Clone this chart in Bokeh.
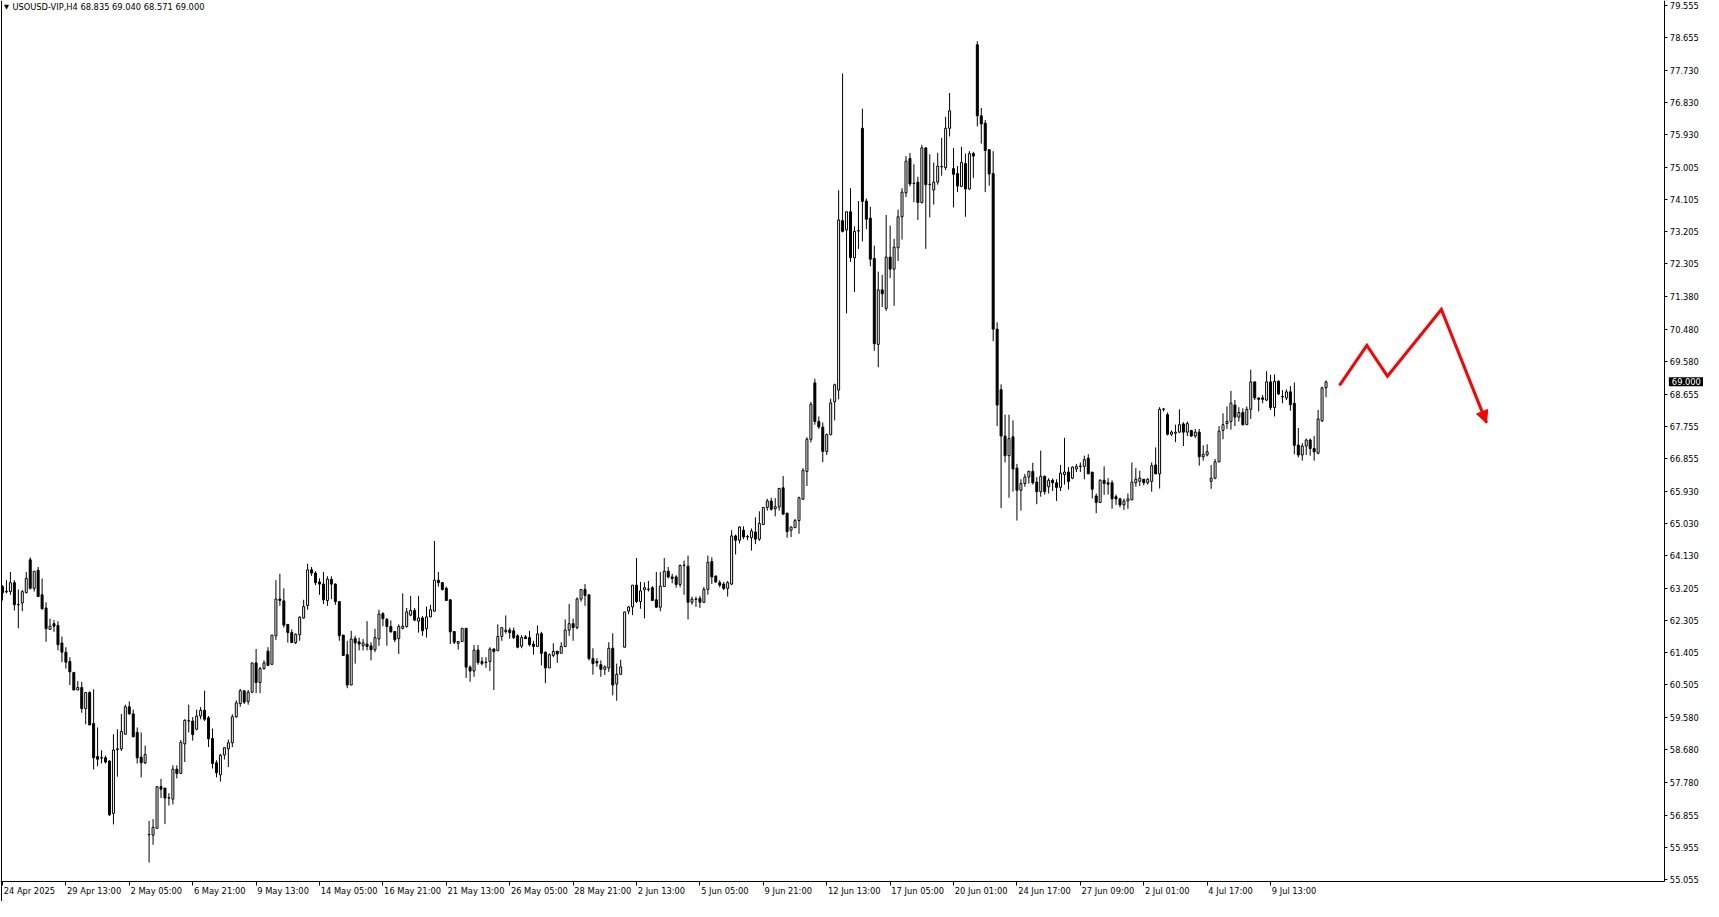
from bokeh.plotting import figure
from bokeh.models import (FixedTicker, PrintfTickFormatter, Label, Span, Arrow,
                          NormalHead, Range1d, ColumnDataSource)
from bokeh.embed import file_html
from bokeh.resources import INLINE

symbol = "USOUSD-VIP,H4"

opens = [
    63.26, 63.11, 63.12, 63.37, 62.75, 62.80, 63.09, 64.01, 63.21, 63.72,
    63.03, 62.66, 62.06, 62.22, 62.17, 61.68, 61.42, 61.16, 60.85, 60.36,
    60.43, 59.84, 60.29, 59.42, 58.50, 58.46, 58.46, 58.37, 56.90, 58.69,
    58.71, 59.12, 59.89, 59.69, 59.17, 58.48, 58.32, 56.30, 56.29, 56.48,
    57.65, 57.61, 57.33, 57.30, 58.14, 58.02, 58.85, 59.49, 59.49, 59.26,
    59.63, 59.79, 59.58, 59.00, 58.32, 57.98, 58.54, 58.71, 58.88, 59.61,
    59.98, 60.34, 60.04, 60.30, 61.12, 60.57, 60.96, 61.45, 61.08, 61.88,
    62.91, 62.86, 62.20, 61.97, 61.69, 61.91, 62.38, 62.73, 63.73, 63.64,
    63.39, 63.33, 62.87, 63.46, 63.33, 62.84, 61.90, 61.35, 60.50, 61.80,
    61.71, 61.60, 61.65, 61.60, 61.49, 61.79, 62.50, 62.34, 62.14, 62.00,
    61.80, 62.09, 62.14, 62.46, 62.59, 62.29, 62.38, 62.08, 62.41, 62.57,
    63.44, 63.37, 63.21, 62.89, 62.00, 61.67, 61.72, 62.09, 61.00, 60.89,
    61.48, 61.16, 61.13, 61.16, 61.51, 61.46, 61.86, 62.00, 62.04, 62.02,
    61.88, 61.59, 61.85, 61.83, 61.65, 61.58, 61.94, 61.42, 60.98, 61.33,
    61.45, 61.39, 61.58, 62.04, 62.22, 62.11, 62.91, 63.18, 63.03, 61.24,
    61.16, 61.07, 60.94, 60.98, 61.53, 60.53, 60.80, 61.56, 62.57, 62.69,
    63.30, 62.84, 63.17, 63.18, 63.23, 62.89, 62.68, 63.26, 63.69, 63.53,
    63.53, 63.32, 63.85, 63.83, 62.82, 62.90, 62.93, 62.82, 63.18, 63.96,
    63.55, 63.37, 63.33, 63.21, 63.33, 64.68, 64.56, 64.84, 64.66, 64.63,
    64.79, 64.59, 65.00, 65.48, 65.66, 65.44, 65.49, 66.03, 65.32, 64.84,
    64.91, 65.11, 65.71, 66.49, 67.39, 68.97, 67.89, 67.73, 67.05, 67.52,
    68.44, 68.77, 73.52, 73.26, 73.77, 72.48, 73.23, 76.11, 74.07, 73.59,
    72.46, 70.05, 71.58, 71.06, 72.50, 72.16, 72.76, 73.63, 74.30, 75.26,
    74.57, 74.60, 74.03, 75.56, 74.53, 74.38, 74.60, 75.03, 75.01, 76.11,
    74.98, 74.84, 74.48, 75.12, 74.41, 75.40, 78.45, 76.46, 76.25, 75.51,
    74.84, 70.48, 68.78, 67.48, 66.93, 67.46, 66.58, 65.96, 66.15, 66.33,
    66.49, 66.19, 65.92, 66.35, 66.06, 66.24, 66.17, 66.04, 66.40, 66.47,
    66.30, 66.56, 66.63, 66.63, 66.86, 66.47, 65.80, 65.62, 66.24, 66.17,
    66.17, 65.78, 65.72, 65.55, 65.66, 65.69, 66.17, 66.21, 66.27, 66.17,
    66.21, 66.67, 66.42, 68.23, 68.08, 67.53, 67.56, 67.59, 67.82, 67.59,
    67.64, 67.48, 67.59, 66.90, 66.95, 66.21, 66.30, 66.76, 67.64, 67.83,
    67.89, 68.35, 68.01, 68.14, 67.80, 68.23, 69.00, 68.55, 68.55, 68.49,
    69.00, 68.28, 69.02, 68.58, 68.55, 68.72, 68.40, 67.23, 66.95, 67.20,
    67.37, 67.13, 67.00, 67.91, 68.835,
]

highs = [
    63.30, 63.44, 63.67, 63.44, 63.18, 63.16, 63.67, 64.08, 63.69, 63.81,
    63.49, 62.82, 62.36, 62.32, 62.29, 61.86, 61.56, 61.28, 60.87, 60.61,
    60.59, 60.29, 60.32, 60.38, 59.31, 58.67, 58.52, 58.39, 59.12, 59.26,
    59.69, 59.95, 60.04, 59.81, 59.31, 59.17, 58.80, 56.69, 56.74, 57.65,
    57.87, 57.61, 57.47, 58.25, 58.25, 58.96, 59.54, 59.95, 59.60, 59.81,
    59.88, 60.34, 59.63, 59.28, 58.39, 58.57, 58.76, 58.97, 59.68, 60.07,
    60.39, 60.34, 60.36, 61.12, 61.51, 61.01, 61.19, 61.56, 61.90, 63.44,
    63.62, 63.21, 62.20, 62.06, 61.95, 62.43, 62.89, 63.90, 63.81, 63.69,
    63.49, 63.67, 63.55, 63.55, 63.35, 62.84, 61.90, 61.74, 62.02, 61.88,
    61.83, 61.79, 62.29, 61.70, 62.08, 62.61, 62.54, 62.38, 62.31, 62.02,
    62.20, 63.07, 62.66, 63.00, 62.66, 63.00, 62.43, 62.70, 62.75, 64.54,
    63.67, 63.39, 63.26, 62.89, 62.00, 61.72, 62.09, 62.09, 61.05, 61.62,
    61.62, 61.28, 61.28, 61.56, 61.53, 62.20, 62.11, 62.45, 62.11, 62.11,
    61.92, 61.90, 61.90, 62.02, 61.74, 62.17, 61.99, 61.44, 61.39, 61.67,
    61.45, 61.70, 62.34, 62.77, 62.36, 62.96, 63.18, 63.33, 63.03, 61.53,
    61.25, 61.19, 61.05, 61.70, 61.95, 61.10, 61.21, 62.55, 62.71, 63.30,
    64.06, 63.39, 63.38, 63.42, 63.27, 63.67, 63.67, 64.06, 63.81, 63.62,
    63.58, 63.88, 63.99, 64.13, 62.98, 62.98, 63.00, 63.25, 64.13, 64.08,
    63.58, 63.44, 63.39, 63.42, 64.84, 64.72, 64.95, 64.95, 64.71, 64.89,
    65.20, 65.37, 65.48, 65.72, 65.75, 65.74, 66.03, 66.36, 65.32, 64.95,
    65.16, 65.78, 66.58, 67.45, 68.44, 69.09, 68.03, 67.86, 67.55, 68.53,
    68.95, 74.37, 77.65, 73.77, 74.43, 73.36, 74.07, 76.66, 74.14, 73.91,
    72.82, 72.09, 72.00, 73.68, 73.38, 73.01, 73.83, 74.43, 75.33, 75.42,
    75.10, 74.75, 75.65, 75.58, 75.38, 75.15, 75.42, 75.84, 76.43, 77.10,
    75.56, 75.05, 75.59, 75.40, 75.47, 75.45, 78.55, 76.68, 76.34, 75.52,
    75.47, 70.67, 68.93, 68.08, 68.08, 67.92, 66.70, 66.27, 66.42, 66.51,
    66.73, 66.33, 67.07, 66.38, 66.30, 66.29, 66.27, 66.67, 67.43, 66.61,
    66.63, 66.70, 66.74, 66.93, 66.97, 66.47, 65.87, 66.27, 66.63, 66.30,
    66.24, 65.84, 65.75, 65.73, 65.87, 66.74, 66.58, 66.51, 66.27, 66.30,
    66.74, 67.16, 68.29, 68.26, 68.14, 67.64, 67.80, 68.23, 67.87, 67.89,
    67.64, 67.68, 67.68, 67.22, 67.25, 66.67, 66.84, 67.76, 68.12, 68.31,
    68.75, 68.49, 68.29, 68.26, 68.31, 69.34, 69.00, 68.55, 68.63, 69.30,
    69.20, 69.21, 69.04, 68.77, 68.79, 68.88, 68.98, 67.71, 67.28, 67.41,
    67.41, 67.48, 68.21, 68.86, 69.040,
]

lows = [
    62.87, 63.07, 63.03, 62.59, 62.09, 62.57, 63.07, 63.18, 63.12, 62.98,
    62.61, 61.71, 62.06, 61.99, 61.47, 61.14, 60.96, 60.50, 60.36, 60.36,
    59.72, 59.40, 59.38, 58.13, 58.22, 58.30, 58.30, 56.83, 56.59, 57.93,
    58.65, 59.11, 59.67, 59.03, 58.30, 57.91, 58.28, 55.52, 56.02, 56.48,
    57.33, 56.60, 57.12, 57.15, 57.88, 58.02, 58.34, 59.17, 58.94, 59.23,
    59.54, 59.49, 58.76, 58.16, 57.91, 57.79, 58.41, 58.20, 58.76, 59.58,
    59.89, 59.97, 59.95, 60.27, 60.27, 60.27, 60.93, 61.03, 61.07, 61.76,
    62.72, 62.11, 61.69, 61.69, 61.65, 61.74, 62.36, 62.61, 63.56, 63.30,
    63.03, 62.77, 62.72, 62.91, 62.75, 61.74, 61.33, 60.41, 60.50, 61.10,
    61.47, 61.47, 61.47, 61.19, 61.42, 61.60, 62.15, 61.60, 61.97, 61.70,
    61.37, 62.06, 62.11, 62.43, 62.29, 61.97, 61.88, 61.83, 62.40, 62.57,
    63.26, 63.15, 62.87, 61.65, 61.65, 61.49, 61.72, 60.70, 60.59, 60.73,
    61.07, 61.05, 60.98, 60.89, 60.36, 61.46, 61.74, 61.94, 61.80, 61.79,
    61.53, 61.53, 61.79, 61.58, 61.35, 61.58, 61.05, 60.55, 60.98, 61.28,
    61.12, 61.39, 61.56, 61.88, 61.74, 62.06, 62.84, 62.72, 61.19, 60.79,
    61.01, 60.73, 60.78, 60.87, 60.21, 60.06, 60.80, 61.56, 62.48, 62.46,
    62.80, 62.64, 62.37, 63.12, 62.87, 62.68, 62.57, 63.26, 63.49, 63.35,
    63.23, 63.24, 63.03, 62.34, 62.75, 62.69, 62.66, 62.80, 63.03, 63.33,
    63.37, 63.24, 63.16, 62.98, 63.30, 64.16, 64.47, 64.59, 64.56, 64.27,
    64.45, 64.54, 65.00, 65.39, 65.39, 65.23, 65.39, 65.29, 64.63, 64.65,
    64.91, 64.74, 65.69, 66.08, 67.30, 67.80, 67.68, 66.75, 66.95, 67.50,
    67.92, 68.51, 73.19, 70.92, 72.36, 71.52, 72.73, 72.94, 73.28, 72.24,
    69.87, 69.41, 71.10, 70.99, 71.91, 71.13, 72.39, 72.99, 74.18, 74.48,
    74.04, 73.54, 74.00, 72.73, 73.61, 73.97, 74.53, 74.78, 74.94, 75.88,
    73.89, 74.32, 74.46, 73.63, 74.38, 74.72, 76.16, 75.68, 74.32, 74.50,
    70.14, 67.76, 65.46, 66.74, 65.75, 65.92, 65.11, 65.39, 66.06, 66.15,
    66.12, 65.57, 65.78, 65.84, 65.87, 65.94, 65.66, 65.94, 66.12, 65.98,
    66.27, 66.47, 66.47, 66.27, 66.42, 65.73, 65.32, 65.62, 65.83, 65.84,
    65.44, 65.55, 65.48, 65.41, 65.44, 65.69, 66.06, 66.08, 66.10, 66.12,
    65.92, 66.42, 66.01, 68.17, 67.50, 67.48, 67.31, 67.57, 67.20, 67.48,
    67.46, 67.43, 66.65, 66.79, 66.91, 66.00, 66.27, 66.74, 67.39, 67.68,
    67.66, 67.76, 67.89, 67.77, 67.80, 67.96, 68.49, 68.17, 68.40, 68.46,
    68.21, 68.03, 68.63, 68.40, 68.49, 68.19, 66.97, 66.88, 66.79, 66.95,
    66.93, 66.79, 66.97, 67.87, 68.571,
]

closes = [
    63.09, 63.13, 63.37, 62.75, 62.76, 63.12, 63.49, 63.21, 63.69, 62.98,
    62.64, 62.08, 62.15, 62.15, 61.63, 61.42, 61.14, 60.87, 60.36, 60.43,
    59.84, 60.29, 59.38, 58.46, 58.42, 58.45, 58.34, 56.86, 58.68, 58.71,
    59.20, 59.89, 59.69, 59.05, 58.46, 58.32, 58.55, 56.31, 56.51, 57.65,
    57.58, 57.33, 57.34, 58.14, 58.02, 58.89, 59.51, 59.50, 59.11, 59.63,
    59.79, 59.54, 58.99, 58.30, 58.04, 58.53, 58.74, 58.88, 59.61, 60.00,
    60.34, 60.02, 60.30, 61.12, 60.57, 60.96, 61.12, 61.05, 61.90, 62.91,
    62.87, 62.18, 61.97, 61.69, 61.92, 62.40, 62.70, 63.73, 63.64, 63.37,
    63.33, 62.89, 63.47, 63.33, 62.84, 61.88, 61.33, 60.50, 61.79, 61.68,
    61.65, 61.68, 61.58, 61.49, 61.83, 62.49, 62.36, 62.14, 61.99, 61.77,
    62.14, 62.15, 62.55, 62.59, 62.32, 62.38, 62.02, 62.41, 62.61, 63.44,
    63.37, 63.18, 62.87, 61.99, 61.70, 61.72, 62.09, 61.00, 60.89, 61.48,
    61.13, 61.10, 61.14, 61.51, 61.44, 61.86, 62.11, 62.04, 61.97, 61.83,
    61.56, 61.83, 61.80, 61.63, 61.58, 61.93, 61.39, 60.98, 61.35, 61.44,
    61.37, 61.58, 62.04, 62.22, 62.11, 62.91, 63.18, 63.01, 61.24, 61.10,
    61.12, 60.94, 61.01, 61.53, 60.50, 60.80, 61.01, 62.55, 62.69, 63.30,
    62.84, 63.14, 63.23, 63.19, 62.87, 62.68, 63.27, 63.69, 63.53, 63.49,
    63.32, 63.85, 63.86, 62.82, 62.91, 62.91, 62.82, 63.18, 63.94, 63.53,
    63.39, 63.30, 63.21, 63.37, 64.68, 64.56, 64.93, 64.65, 64.65, 64.82,
    64.59, 65.03, 65.48, 65.66, 65.43, 65.50, 66.01, 65.29, 64.80, 64.93,
    65.11, 65.75, 66.52, 67.39, 68.37, 67.89, 67.74, 67.05, 67.52, 68.41,
    68.92, 73.54, 73.22, 73.77, 72.48, 73.22, 73.24, 74.06, 73.56, 72.44,
    70.07, 71.58, 71.47, 72.50, 72.16, 72.78, 73.63, 74.32, 75.19, 74.55,
    74.56, 74.03, 75.56, 74.53, 74.54, 74.60, 75.05, 75.04, 76.11, 76.60,
    74.82, 74.49, 75.15, 74.41, 75.40, 75.33, 76.46, 76.23, 75.49, 74.83,
    70.48, 68.35, 67.48, 66.93, 67.41, 66.56, 65.96, 66.15, 66.33, 66.49,
    66.17, 65.92, 66.35, 65.92, 66.24, 66.17, 66.04, 66.44, 66.47, 66.21,
    66.61, 66.63, 66.64, 66.82, 66.42, 65.99, 65.62, 66.24, 66.15, 66.13,
    65.72, 65.72, 65.55, 65.66, 65.72, 66.19, 66.27, 66.30, 66.17, 66.27,
    66.65, 66.42, 68.23, 68.24, 67.53, 67.59, 67.59, 67.80, 67.59, 67.83,
    67.48, 67.59, 66.90, 66.97, 67.04, 66.30, 66.76, 67.62, 67.80, 67.89,
    68.40, 68.01, 68.14, 67.80, 68.23, 69.00, 68.55, 68.51, 68.51, 69.00,
    68.28, 69.01, 68.66, 68.59, 68.72, 68.36, 67.22, 66.95, 67.20, 67.37,
    67.13, 67.04, 67.96, 68.83, 69.000,
]

time_label_bars = [0, 16, 32, 48, 64, 80, 96, 112, 128, 144, 160,
                   176, 192, 208, 224, 240, 256, 272, 288, 304, 320]
time_labels = ["24 Apr 2025", "29 Apr 13:00", "2 May 05:00", "6 May 21:00",
               "9 May 13:00", "14 May 05:00", "16 May 21:00", "21 May 13:00",
               "26 May 05:00", "28 May 21:00", "2 Jun 13:00", "5 Jun 05:00",
               "9 Jun 21:00", "12 Jun 13:00", "17 Jun 05:00", "20 Jun 01:00",
               "24 Jun 17:00", "27 Jun 09:00", "2 Jul 01:00", "4 Jul 17:00",
               "9 Jul 13:00"]

price_ticks = [79.555, 78.655, 77.730, 76.830, 75.930, 75.005, 74.105, 73.205,
               72.305, 71.380, 70.480, 69.580, 68.655, 67.755, 66.855, 65.930,
               65.030, 64.130, 63.205, 62.305, 61.405, 60.505, 59.580, 58.680,
               57.780, 56.855, 55.955, 55.055]

# hand-drawn forecast path (bar index, price)
forecast_x = [337.4, 344.3, 349.5, 363.1, 374.5]
forecast_y = [68.90, 70.02, 69.16, 71.03, 67.85]

# ---------------- layout ----------------
W, H = 1703, 901
# the frame covers the whole canvas; the axes are pinned inside it
X0, X1 = -0.5, 429.25     # canvas left / right edge, in bar units
XA = 419.5                # price-axis line
Y0, Y1 = 54.43, 79.693    # canvas bottom / top edge, in price units
YA = 54.982               # time-axis line
FONT = "DejaVu Sans"
FS = "8.3px"

def dx(px):
    return px * (X1 - X0) / W

def dy(px):
    return px * (Y1 - Y0) / H

p = figure(width=W, height=H, output_backend="svg", toolbar_location=None,
           x_range=Range1d(X0, X1), y_range=Range1d(Y0, Y1),
           y_axis_location="right", x_axis_location="below",
           min_border=0, min_border_left=0, min_border_right=0,
           min_border_top=0, min_border_bottom=0)
p.outline_line_color = None
p.grid.visible = False
p.background_fill_color = "white"
p.border_fill_color = "white"

yax = p.yaxis[0]
yax.fixed_location = XA
yax.bounds = (YA, Y1)
yax.ticker = FixedTicker(ticks=price_ticks)
yax.formatter = PrintfTickFormatter(format="%.3f")
yax.major_tick_in = 0
yax.major_tick_out = 3
yax.minor_tick_line_color = None
yax.major_label_standoff = 2
yax.major_label_text_font = FONT
yax.major_label_text_font_size = FS
yax.major_label_text_color = "black"
yax.axis_line_color = "black"
yax.major_tick_line_color = "black"

xax = p.xaxis[0]
xax.fixed_location = YA
xax.bounds = (X0, XA)
xax.ticker = FixedTicker(ticks=time_label_bars)
xax.major_tick_in = 0
xax.major_tick_out = 4
xax.minor_tick_line_color = None
xax.major_label_text_color = None
xax.major_label_text_font_size = FS
xax.axis_line_color = "black"
xax.major_tick_line_color = "black"

p.add_layout(Span(location=X0 + dx(1.0), dimension="height",
                  line_color="black", line_width=1))

# ---------------- candles ----------------
idx = list(range(len(closes)))
tops, bots, fills = [], [], []
for o, c in zip(opens, closes):
    lo = min(o, c)
    hi = max(max(o, c), lo + 0.006)
    tops.append(hi)
    bots.append(lo)
    fills.append("white" if c >= o else "black")
src = ColumnDataSource(dict(x=idx, h=highs, l=lows, top=tops, bottom=bots, fill=fills))
p.segment(x0="x", y0="l", x1="x", y1="h", source=src, line_color="black", line_width=1)
p.vbar(x="x", width=0.5, top="top", bottom="bottom", source=src,
       fill_color="fill", line_color="black", line_width=1)

# ---------------- forecast arrow ----------------
p.line(forecast_x, forecast_y, line_color="#ff0000", line_width=3, line_join="miter")
p.add_layout(Arrow(x_start=forecast_x[-2], y_start=forecast_y[-2],
                   x_end=forecast_x[-1], y_end=forecast_y[-1],
                   line_alpha=0,
                   end=NormalHead(size=12, fill_color="#ff0000", line_color="#ff0000")))

# ---------------- texts ----------------
for b, t in zip(time_label_bars, time_labels):
    p.add_layout(Label(x=b + dx(1.2), y=YA - dy(9.6), text=t, text_font=FONT,
                       text_font_size=FS, text_color="black",
                       text_align="left", text_baseline="middle"))

title = f"{symbol}  {opens[-1]:.3f} {highs[-1]:.3f} {lows[-1]:.3f} {closes[-1]:.3f}"
p.add_layout(Label(x=X0 + dx(3.5), y=Y1 - dy(6.0), text="\u25BC", text_font=FONT,
                   text_font_size="6.5px", text_color="black",
                   text_align="left", text_baseline="middle"))
p.add_layout(Label(x=X0 + dx(11.9), y=Y1 - dy(6.0), text=title, text_font=FONT,
                   text_font_size=FS, text_color="black",
                   text_align="left", text_baseline="middle"))

p.add_layout(Label(x=XA + dx(4), y=closes[-1], text=f"{closes[-1]:.3f}",
                   text_font=FONT, text_font_size=FS, text_color="white",
                   background_fill_color="black", padding=dict(x=3, y=1),
                   text_align="left", text_baseline="middle"))

open("out.html", "w").write(file_html(p, INLINE))
